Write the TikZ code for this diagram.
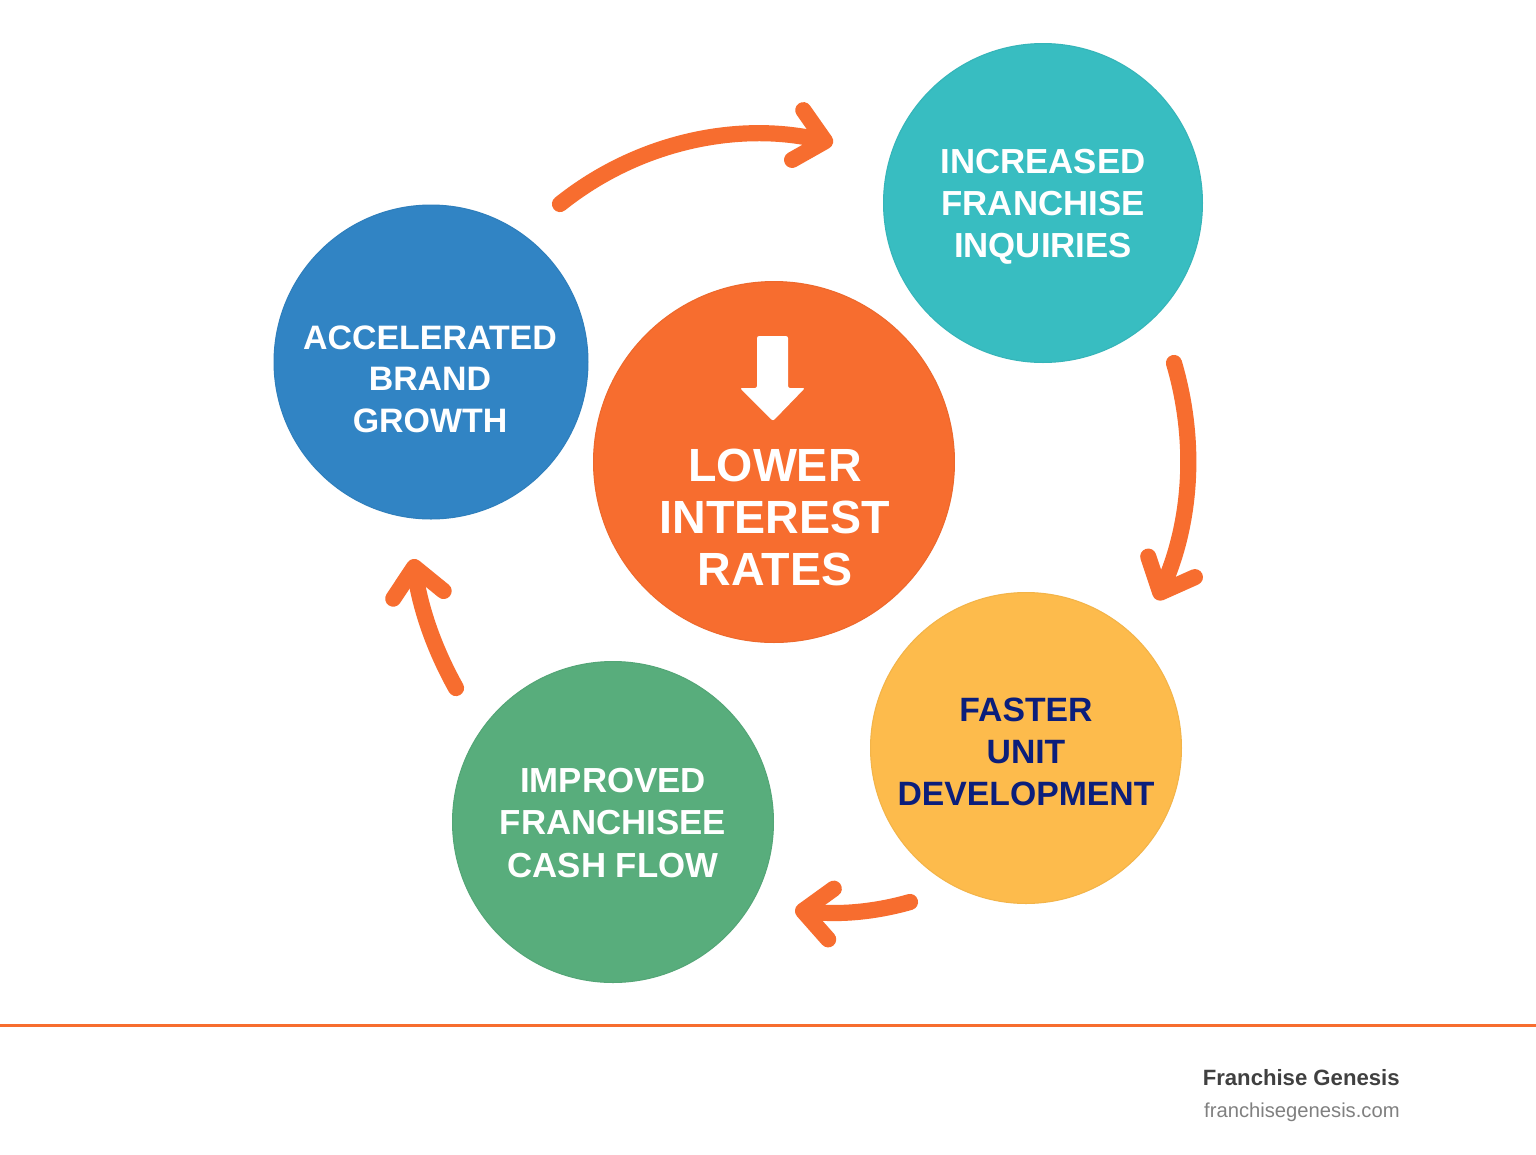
\documentclass[tikz,border=0pt]{standalone}
\usepackage{fontspec}
\setmainfont{Liberation Sans}
\usepackage{xcolor}
\usetikzlibrary{arrows.meta}
\definecolor{rateorange}{HTML}{F76D2F}
\definecolor{inquiryteal}{HTML}{38BDC1}
\definecolor{growthblue}{HTML}{3184C4}
\definecolor{unityellow}{HTML}{FDBB4C}
\definecolor{cashgreen}{HTML}{58AD7C}
\definecolor{unitnavy}{HTML}{0B1E7B}
\tikzset{
    bubble/.style={circle, draw=#1!96!black, fill=#1, line width=0.6pt, inner sep=0pt},
    bubbletext/.style={align=center, text=white, inner sep=0pt, font=\bfseries\fontsize{19.8}{24}\selectfont},
    cyclearrow/.style={draw=rateorange, line width=9.2pt, line cap=round, line join=round,
        -{Straight Barb[round, length=16pt, width=29pt, line width=9.2pt]}},
}
\begin{document}
\begin{tikzpicture}[x=0.02cm, y=-0.02cm]
        \useasboundingbox (0,0) rectangle (1536,1154);
        \fill[white] (0,0) rectangle (1536,1154);
        % circles
        \node[bubble=rateorange, minimum size=7.22cm] (rates) at (774,462) {};
        \node[bubble=inquiryteal, minimum size=6.38cm] (inquiries) at (1043,203) {};
        \node[bubble=growthblue, minimum size=6.28cm] (growth) at (431,362) {};
        \node[bubble=unityellow, minimum size=6.22cm] (unit) at (1026,748) {};
        \node[bubble=cashgreen, minimum size=6.42cm] (cash) at (613,822) {};
        % circle labels
        \node[bubbletext, font=\bfseries\fontsize{26.5}{29.6}\selectfont] (ratestext) at (775,517) {LOWER\\INTEREST\\RATES};
        \node[bubbletext] (inquiriestext) at (1043,207) {INCREASED\\FRANCHISE\\INQUIRIES};
        \node[bubbletext, font=\bfseries\fontsize{19.3}{23.6}\selectfont] (growthtext) at (430,379) {ACCELERATED\\BRAND\\GROWTH};
        \node[bubbletext, text=unitnavy, font=\bfseries\fontsize{19.2}{24}\selectfont] (unittext) at (1026,752) {FASTER\\UNIT\\DEVELOPMENT};
        \node[bubbletext] (cashtext) at (613,823) {IMPROVED\\FRANCHISEE\\CASH FLOW};
        % down arrow
        \fill[white, rounded corners=1.2pt] (757,336) -- (788,336) -- (788,388) -- (805,388) -- (773,421) -- (740,388) -- (757,388) -- cycle;
        % arrows between circles
        \coordinate (growthout) at (560,204);
        \coordinate (inquiriesin) at (833,143);
        \coordinate (inquiriesout) at (1174,363);
        \coordinate (unitin) at (1157,600);
        \coordinate (unitout) at (910,902);
        \coordinate (cashin) at (795,910);
        \coordinate (cashout) at (456,688);
        \coordinate (growthin) at (413,559);
        \draw[cyclearrow] (growthout) .. controls (640,140) and (740,122) .. (inquiriesin);
        \draw[cyclearrow] (inquiriesout) .. controls (1198,445) and (1190,525) .. (unitin);
        \draw[cyclearrow] (unitout) .. controls (875,912) and (840,915) .. (cashin);
        \draw[cyclearrow] (cashout) .. controls (432,645) and (420,605) .. (growthin);
        % footer
        \draw[rateorange, line width=1.7pt] (0,1025) -- (1536,1025);
        \node[anchor=east, inner sep=0pt, text=black!75, font=\bfseries\fontsize{12.6}{15}\selectfont] (brand) at (1400,1078) {Franchise Genesis};
        \node[anchor=east, inner sep=0pt, text=black!50, font=\fontsize{11.5}{14}\selectfont] (site) at (1400,1112) {franchisegenesis.com};
\end{tikzpicture}
\end{document}
